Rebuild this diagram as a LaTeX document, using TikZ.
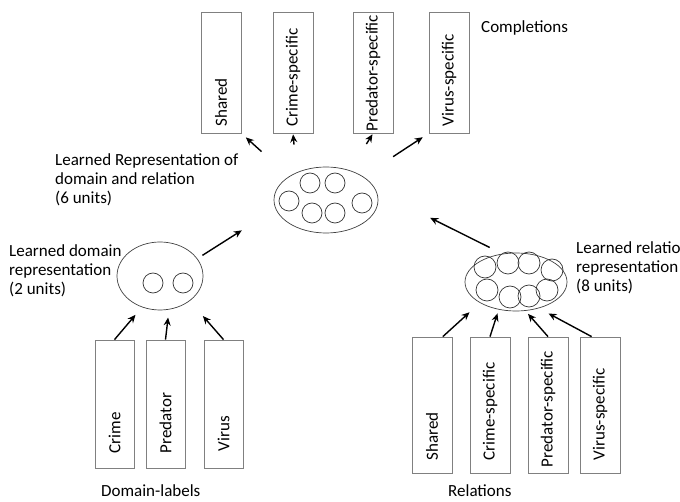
\documentclass[tikz,border=0pt]{standalone}
\usepackage{fontspec}
\setmainfont{Carlito}
\usetikzlibrary{shapes.geometric,arrows.meta}
\tikzset{
  txt/.style={font=\fontsize{17}{19}\selectfont, inner sep=0pt},
  vlab/.style={txt, rotate=90, anchor=west},
  slot/.style={draw=black!50, line width=0.8pt, minimum width=40pt, inner sep=0pt},
  pool/.style={ellipse, draw=black!75, line width=0.7pt, inner sep=0pt},
  neuron/.style={circle, draw=black!80, line width=0.7pt, minimum size=20pt, inner sep=0pt},
  arr/.style={-{Stealth[length=8pt,width=7pt]}, line width=1.4pt},
}
\begin{document}
\begin{tikzpicture}[x=1pt, y=-1pt]
    \clip (0,0) rectangle (680,502);
    % completions
    \node[slot, minimum height=121pt] (tshared) at (221,72.5) {};
    \node[slot, minimum height=121pt] (tcrime) at (293,72.5) {};
    \node[slot, minimum height=121pt] (tpred) at (373,72.5) {};
    \node[slot, minimum height=121pt] (tvirus) at (449,72.5) {};
    \node[vlab] (tsharedt) at ([yshift=7pt]tshared.south) {Shared};
    \node[vlab] (tcrimet) at ([yshift=7pt]tcrime.south) {Crime-specific};
    \node[vlab] (tpredt) at ([yshift=2pt]tpred.south) {Predator-specific};
    \node[vlab] (tvirust) at ([yshift=7pt]tvirus.south) {Virus-specific};
    \node[txt, anchor=west] (complab) at (481,28) {Completions};
    % hidden layers
    \node[pool, minimum width=104pt, minimum height=66pt] (cent) at (326,200) {};
    \node[neuron] (cu1) at (310,183) {};
    \node[neuron] (cu2) at (335,183) {};
    \node[neuron] (cu3) at (289,201) {};
    \node[neuron] (cu4) at (362,203) {};
    \node[neuron] (cu5) at (312,213) {};
    \node[neuron] (cu6) at (335,213) {};
    \node[pool, minimum width=86pt, minimum height=68pt] (dom) at (160,276) {};
    \node[neuron] (du1) at (153,283) {};
    \node[neuron] (du2) at (183,283) {};
    \node[pool, minimum width=102pt, minimum height=58pt] (rel) at (516,282) {};
    \node[neuron, minimum size=22pt] (ru1) at (485,267) {};
    \node[neuron, minimum size=22pt] (ru2) at (508,263) {};
    \node[neuron, minimum size=22pt] (ru3) at (529,263) {};
    \node[neuron, minimum size=22pt] (ru4) at (552,270) {};
    \node[neuron, minimum size=22pt] (ru5) at (487,290) {};
    \node[neuron, minimum size=22pt] (ru6) at (510,297) {};
    \node[neuron, minimum size=22pt] (ru7) at (529,296) {};
    \node[neuron, minimum size=22pt] (ru8) at (547,290) {};
    \node[txt, anchor=west, align=left] (centlab) at (55,180)
      {Learned Representation of\\domain and relation\\(6 units)};
    \node[txt, anchor=west, align=left] (domlab) at (9,271)
      {Learned domain\\representation\\(2 units)};
    \node[txt, anchor=west, align=left] (rellab) at (576,268)
      {Learned relation\\representation\\(8 units)};
    % inputs
    \node[slot, minimum width=39pt, minimum height=128pt] (dcrime) at (114.5,404) {};
    \node[slot, minimum width=39pt, minimum height=128pt] (dpred) at (165.5,404) {};
    \node[slot, minimum width=39pt, minimum height=128pt] (dvirus) at (223.5,404) {};
    \node[vlab] (dcrimet) at ([yshift=15pt]dcrime.south) {Crime};
    \node[vlab] (dpredt) at ([yshift=15pt]dpred.south) {Predator};
    \node[vlab] (dvirust) at ([yshift=17pt]dvirus.south) {Virus};
    \node[slot, minimum height=136pt] (rshared) at (432,405) {};
    \node[slot, minimum height=136pt] (rcrime) at (490,405) {};
    \node[slot, minimum height=136pt] (rpred) at (548,405) {};
    \node[slot, minimum height=136pt] (rvirus) at (600,405) {};
    \node[vlab] (rsharedt) at ([yshift=13pt]rshared.south) {Shared};
    \node[vlab] (rcrimet) at ([yshift=13pt]rcrime.south) {Crime-specific};
    \node[vlab] (rpredt) at ([yshift=6pt]rpred.south) {Predator-specific};
    \node[vlab] (rvirust) at ([yshift=13pt]rvirus.south) {Virus-specific};
    \node[txt, anchor=west] (domcap) at (101,491) {Domain-labels};
    \node[txt, anchor=west] (relcap) at (448,491) {Relations};
    % arrows
    \draw[arr, shorten <=37pt, shorten >=6pt] (cent.north west) -- (tshared.south east);
    \draw[arr, shorten <=28pt, shorten >=1pt] (cent.137) -- (tcrime.south);
    \draw[arr, shorten <=31pt, shorten >=1pt] (cent.51) -- (tpred.south);
    \draw[arr, shorten <=36pt, shorten >=7pt] (cent.north east) -- (tvirus.south west);
    \draw[arr, shorten <=6pt, shorten >=40pt] (dom.25) -- (cent.190);
    \draw[arr, shorten <=14pt, shorten >=60pt] (rel.116) -- (cent.10);
    \draw[arr, shorten >=10pt] (dcrime.north) -- (dom.240);
    \draw[arr, shorten >=8pt] (dpred.north) -- (dom.-75);
    \draw[arr, shorten >=20pt] (dvirus.north) -- (dom.-40);
    \draw[arr, shorten >=14pt] (rshared.81) -- (rel.-150);
    \draw[arr, shorten >=4pt] (rcrime.north) -- (rel.-122);
    \draw[arr, shorten >=4pt] (rpred.north) -- (rel.-72);
    \draw[arr, shorten >=11pt] (rvirus.97) -- (rel.-49);
\end{tikzpicture}
\end{document}
